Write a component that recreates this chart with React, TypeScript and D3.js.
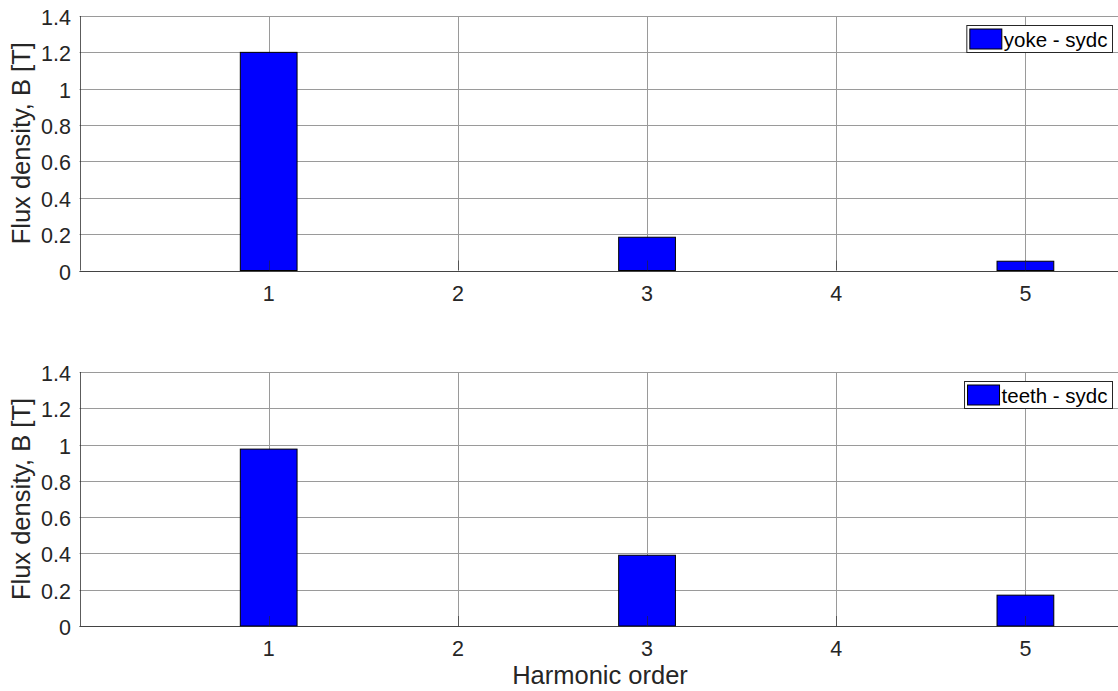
import { useEffect, useRef } from 'react';
import * as d3 from 'd3';

// harmonic orders that have a bar
const harmonics = [1, 3, 5];
// flux density per harmonic [T]
const yokeValues = [1.2, 0.183, 0.051];
const teethValues = [0.975, 0.39, 0.17];
const seriesNames = ['yoke - sydc', 'teeth - sydc'];
const xTicks = [1, 2, 3, 4, 5];
const yTicks = [0, 0.2, 0.4, 0.6, 0.8, 1, 1.2, 1.4];

const W = 1118;
const H = 691;
const FONT = '"Liberation Sans", Arial, Helvetica, sans-serif';
const AXIS = '#262626';
const GRID = '#9a9a9a';

function App() {
  const svgRef = useRef<SVGSVGElement>(null);

  useEffect(() => {
    const svg = d3.select(svgRef.current);
    svg.selectAll('*').remove();

    const x = d3.scaleLinear().domain([0, 5.5]).range([79.5, 1120]);
    const panels = [
      { values: yokeValues, name: seriesNames[0], top: 16, bottom: 270.5 },
      { values: teethValues, name: seriesNames[1], top: 372, bottom: 626 },
    ];
    const barW = x(0.3) - x(0);

    panels.forEach((p) => {
      const y = d3.scaleLinear().domain([0, 1.4]).range([p.bottom, p.top]);
      const g = svg.append('g');

      // grid
      g.selectAll('.hgrid')
        .data(yTicks)
        .enter().append('line')
        .attr('x1', x(0)).attr('x2', W)
        .attr('y1', d => Math.round(y(d)) + 0.5).attr('y2', d => Math.round(y(d)) + 0.5)
        .attr('stroke', GRID).attr('stroke-width', 1);
      g.selectAll('.vgrid')
        .data(xTicks)
        .enter().append('line')
        .attr('x1', d => Math.round(x(d)) + 0.5).attr('x2', d => Math.round(x(d)) + 0.5)
        .attr('y1', p.top).attr('y2', p.bottom)
        .attr('stroke', GRID).attr('stroke-width', 1);

      // bars
      g.selectAll('.bar')
        .data(harmonics)
        .enter().append('rect')
        .attr('x', (d) => x(d) - barW / 2)
        .attr('width', barW)
        .attr('y', (d, i) => y(p.values[i]))
        .attr('height', (d, i) => y(0) - y(p.values[i]))
        .attr('fill', '#0000ff')
        .attr('stroke', '#000')
        .attr('stroke-width', 1);

      // axes lines
      g.append('line')
        .attr('x1', x(0)).attr('x2', W)
        .attr('y1', Math.round(y(0)) + 0.5).attr('y2', Math.round(y(0)) + 0.5)
        .attr('stroke', AXIS).attr('stroke-opacity', 0.75);
      g.append('line')
        .attr('x1', Math.round(x(0)) + 0.5).attr('x2', Math.round(x(0)) + 0.5)
        .attr('y1', p.top).attr('y2', p.bottom)
        .attr('stroke', AXIS).attr('stroke-opacity', 0.75);

      // inward ticks
      g.selectAll('.xt')
        .data(xTicks)
        .enter().append('line')
        .attr('x1', d => Math.round(x(d)) + 0.5).attr('x2', d => Math.round(x(d)) + 0.5)
        .attr('y1', y(0)).attr('y2', y(0) - 10)
        .attr('stroke', AXIS).attr('stroke-opacity', 0.6);

      // tick labels
      g.selectAll('.xl')
        .data(xTicks)
        .enter().append('text')
        .attr('x', d => x(d))
        .attr('y', y(0) + 30)
        .attr('text-anchor', 'middle')
        .attr('font-family', FONT).attr('font-size', 21.5)
        .attr('fill', AXIS)
        .text(d => d);
      g.selectAll('.yl')
        .data(yTicks)
        .enter().append('text')
        .attr('x', 71)
        .attr('y', d => y(d) + 9)
        .attr('text-anchor', 'end')
        .attr('font-family', FONT).attr('font-size', 21.5)
        .attr('fill', AXIS)
        .text(d => String(d));

      // y label
      g.append('text')
        .attr('transform', `translate(30,${(p.top + p.bottom) / 2}) rotate(-90)`)
        .attr('text-anchor', 'middle')
        .attr('font-family', FONT).attr('font-size', 25.5)
        .attr('fill', AXIS)
        .text('Flux density, B [T]');

      // legend
      const lg = g.append('g');
      const box = lg.append('rect')
        .attr('fill', '#fff').attr('stroke', AXIS).attr('stroke-width', 1);
      const txt = lg.append('text')
        .attr('font-family', FONT).attr('font-size', 20.5)
        .attr('fill', '#000')
        .text(p.name);
      const tw = (txt.node() as SVGTextElement).getComputedTextLength();
      const right = 1112.5;
      const left = right - tw - 42;
      const bt = p.top + 9.5;
      box.attr('x', left).attr('y', bt).attr('width', right - left).attr('height', 27);
      lg.append('rect')
        .attr('x', left + 3).attr('y', bt + 3.5)
        .attr('width', 32).attr('height', 20)
        .attr('fill', '#0000ff').attr('stroke', '#000');
      txt.attr('x', left + 37).attr('y', bt + 21);
    });

    svg.append('text')
      .attr('x', 600)
      .attr('y', 684)
      .attr('text-anchor', 'middle')
      .attr('font-family', FONT).attr('font-size', 25.5)
      .attr('fill', AXIS)
      .text('Harmonic order');
  }, []);

  return (
    <div style={{ position: 'absolute', left: 0, top: 0 }}>
      <svg ref={svgRef} width={W} height={H} style={{ display: 'block', background: '#fff' }} />
    </div>
  );
}

export default App;
